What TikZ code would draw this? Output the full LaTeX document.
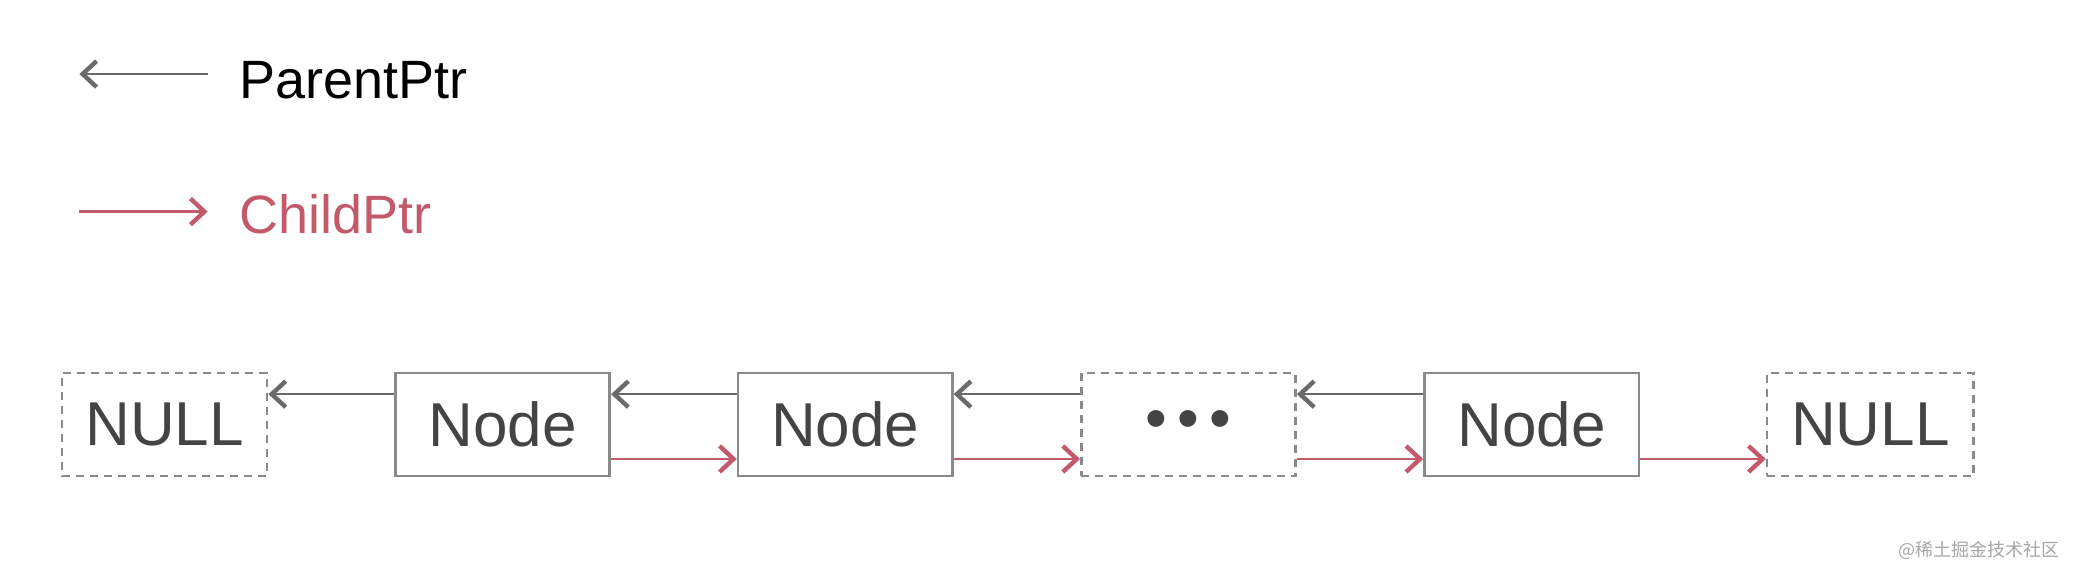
\documentclass[tikz,border=0pt]{standalone}
\usepackage{fontspec}
\setmainfont{Liberation Sans}
\newfontfamily\cjk{Noto Sans CJK SC}
\usetikzlibrary{arrows.meta}
\definecolor{txt}{HTML}{444444}
\definecolor{bord}{HTML}{8A8A8A}
\definecolor{par}{HTML}{6A6A6A}
\definecolor{chi}{HTML}{C25A6C}
\begin{document}
\begin{tikzpicture}[x=0.6615pt,y=-0.6615pt,
  box/.style={draw=bord,line width=1.3pt,minimum width=162*0.6615pt,minimum height=78*0.6615pt,inner sep=0pt,text=txt,font=\fontsize{31}{31}\selectfont},
  dbox/.style={box,dashed,dash pattern=on 4pt off 3pt},
  parr/.style={draw=par,line width=1.3pt,-{Straight Barb[length=7pt,width=13pt,line width=2.2pt]}},
  carr/.style={draw=chi,line width=1.3pt,-{Straight Barb[length=7pt,width=13pt,line width=2.2pt]}}]
\useasboundingbox (0,0) rectangle (1568,435.4);
\node[dbox,minimum width=155*0.6615pt] (n0) at (124.5,321) {NULL};
\node[box] (a) at (380,321) {Node};
\node[box] (b) at (639,321) {Node};
\node[dbox] (d) at (898.5,321) {\textbullet\,\textbullet\,\textbullet};
\node[box] (c) at (1158,321) {Node};
\node[dbox,minimum width=156*0.6615pt] (n1) at (1414,321) {NULL};
\foreach \s/\t in {a/n0,b/a,d/b,c/d}
  \draw[parr] (\s.west |- 0,298) -- (\t.east |- 0,298);
\foreach \s/\t in {a/b,b/d,d/c,c/n1}
  \draw[carr] (\s.east |- 0,347) -- (\t.west |- 0,347);
\coordinate (p1) at (157,56); \coordinate (p0) at (60,56);
\draw[parr] (p1) -- (p0);
\node[anchor=west,font=\fontsize{27}{27}\selectfont,text=black] (lp) at (176,61) {ParentPtr};
\coordinate (c0) at (60,160); \coordinate (c1) at (157,160);
\draw[carr] (c0) -- (c1);
\node[anchor=west,font=\fontsize{27}{27}\selectfont,text=chi] (lc) at (176,162) {ChildPtr};
\node[anchor=east,font=\cjk\fontsize{9}{9}\selectfont,text=gray!70] (wm) at (1562,416) {@稀土掘金技术社区};
\end{tikzpicture}
\end{document}
